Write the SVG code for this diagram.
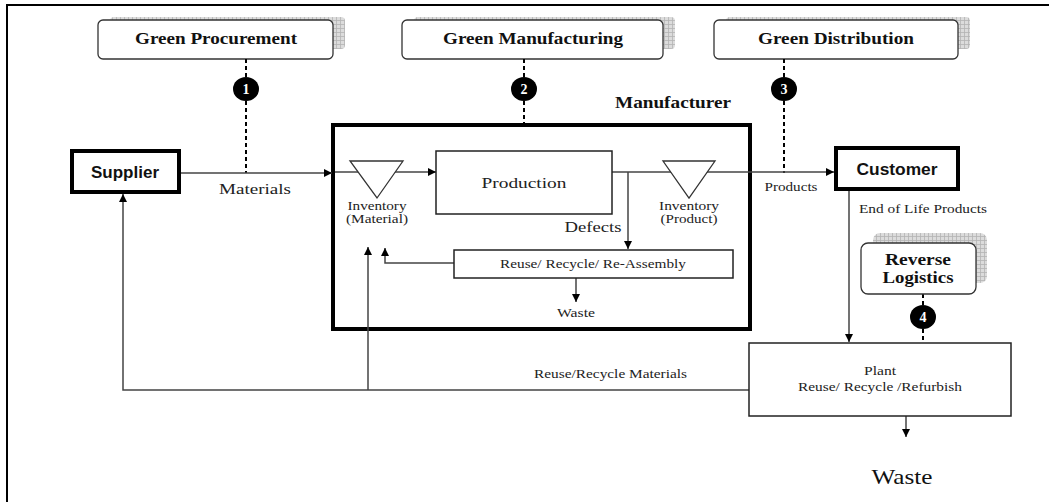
<svg xmlns="http://www.w3.org/2000/svg" width="1049" height="502" viewBox="0 0 1049 502">
  <style>
    .frame { fill: none; stroke: #000; stroke-width: 2; }
    .box { fill: #fff; stroke: #222; stroke-width: 1.5; }
    .thick { fill: #fff; stroke: #000; stroke-width: 4; }
    .green { fill: #fff; stroke: #333; stroke-width: 1.3; }
    .shadow { fill: url(#grid); }
    .link { fill: none; stroke: #444; stroke-width: 1.5; }
    .dash { fill: none; stroke: #000; stroke-width: 2; stroke-dasharray: 4 3; }
    .badge { fill: #000; }
    .badgeText { font-family: "Liberation Serif", serif; font-weight: bold; font-size: 14px; fill: #fff; text-anchor: middle; }
    .hdr { font-family: "Liberation Serif", serif; font-weight: bold; font-size: 16px; fill: #111; text-anchor: middle; }
    .rl { font-family: "Liberation Serif", serif; font-weight: bold; font-size: 17px; fill: #111; text-anchor: middle; }
    .sans { font-family: "Liberation Sans", Arial, sans-serif; font-weight: bold; font-size: 16px; fill: #111; text-anchor: middle; }
    .serif { font-family: "Liberation Serif", serif; fill: #222; text-anchor: middle; }
    .s12 { font-size: 12px; }
    .s13 { font-size: 13px; }
    .s15 { font-size: 15px; }
    .big { font-size: 22px; fill: #111; }
    .start { text-anchor: start; }
    .tri { fill: #fff; stroke: #333; stroke-width: 1.3; }
  </style>
  <defs>
    <pattern id="grid" width="4" height="4" patternUnits="userSpaceOnUse">
      <rect width="4" height="4" fill="#dcdcdc"/>
      <path d="M0 0.5H4M0.5 0V4" stroke="#b4b4b4" stroke-width="0.8"/>
    </pattern>
    <marker id="arr" viewBox="0 0 10 10" refX="10" refY="5" markerWidth="8" markerHeight="8" markerUnits="userSpaceOnUse" orient="auto">
      <path d="M0 0L10 5L0 10z" fill="#000"/>
    </marker>
  </defs>

  <rect width="1049" height="502" fill="#fff"/>
  <!-- page frame -->
  <path class="frame" d="M7 502V5H1049"/>

  <!-- green practice headers -->
  <g id="green-procurement">
    <rect class="shadow" x="110" y="17" width="235" height="32" rx="4"/>
    <rect class="green" x="98" y="20" width="235" height="39" rx="5"/>
    <text class="hdr" x="216" y="44" textLength="162" lengthAdjust="spacingAndGlyphs">Green Procurement</text>
  </g>
  <g id="green-manufacturing">
    <rect class="shadow" x="414" y="17" width="261" height="32" rx="4"/>
    <rect class="green" x="402" y="20" width="261" height="39" rx="5"/>
    <text class="hdr" x="533" y="44" textLength="180" lengthAdjust="spacingAndGlyphs">Green Manufacturing</text>
  </g>
  <g id="green-distribution">
    <rect class="shadow" x="726" y="17" width="244" height="32" rx="4"/>
    <rect class="green" x="714" y="20" width="244" height="39" rx="5"/>
    <text class="hdr" x="836" y="44" textLength="156" lengthAdjust="spacingAndGlyphs">Green Distribution</text>
  </g>

  <!-- manufacturer -->
  <g id="manufacturer">
    <rect class="thick" x="333" y="125" width="417" height="204"/>
    <text class="hdr" x="673" y="108" textLength="116" lengthAdjust="spacingAndGlyphs">Manufacturer</text>
  </g>

  <g id="connectors">
    <!-- dashed links to practices -->
    <path class="dash" d="M246 59V173"/>
    <path class="dash" d="M524 59V125"/>
    <path class="dash" d="M784 59V173"/>
    <path class="dash" d="M923 294V343"/>
    <!-- forward flow -->
    <path class="link" d="M179 173H332" marker-end="url(#arr)"/>
    <path class="link" d="M335 172H436" marker-end="url(#arr)"/>
    <path class="link" d="M612 172H834" marker-end="url(#arr)"/>
    <path class="link" d="M628 172V249" marker-end="url(#arr)"/>
    <path class="link" d="M454 263H385V248" marker-end="url(#arr)"/>
    <path class="link" d="M576 278V302" marker-end="url(#arr)"/>
    <!-- reverse flow -->
    <path class="link" d="M849 190V342" marker-end="url(#arr)"/>
    <path class="link" d="M749 390H123V194" marker-end="url(#arr)"/>
    <path class="link" d="M368 390V247" marker-end="url(#arr)"/>
    <path class="link" d="M906 416V437" marker-end="url(#arr)"/>
  </g>

  <!-- badges -->
  <g id="badge-1"><ellipse class="badge" cx="246" cy="89" rx="13" ry="12"/><text class="badgeText" x="246" y="94">1</text></g>
  <g id="badge-2"><ellipse class="badge" cx="524" cy="89" rx="13" ry="12"/><text class="badgeText" x="524" y="94">2</text></g>
  <g id="badge-3"><ellipse class="badge" cx="784" cy="89" rx="13" ry="12"/><text class="badgeText" x="784" y="94">3</text></g>
  <g id="badge-4"><ellipse class="badge" cx="923" cy="317" rx="13" ry="12"/><text class="badgeText" x="923" y="322">4</text></g>

  <g id="supplier">
    <rect class="thick" x="72" y="151" width="107" height="41"/>
    <text class="sans" x="125" y="178" textLength="68" lengthAdjust="spacingAndGlyphs">Supplier</text>
  </g>
  <g id="customer">
    <rect class="thick" x="836" y="148" width="122" height="41"/>
    <text class="sans" x="897" y="175" textLength="81" lengthAdjust="spacingAndGlyphs">Customer</text>
  </g>

  <g id="inventory-material">
    <path class="tri" d="M350 161H403L377 198z"/>
    <text class="serif s12" x="377" y="210" textLength="59" lengthAdjust="spacingAndGlyphs">Inventory</text>
    <text class="serif s12" x="377" y="223" textLength="62" lengthAdjust="spacingAndGlyphs">(Material)</text>
  </g>
  <g id="production">
    <rect class="box" x="436" y="151" width="176" height="63"/>
    <text class="serif s15" x="524" y="188" textLength="85" lengthAdjust="spacingAndGlyphs">Production</text>
  </g>
  <g id="inventory-product">
    <path class="tri" d="M663 161H715L689 198z"/>
    <text class="serif s12" x="689" y="210" textLength="60" lengthAdjust="spacingAndGlyphs">Inventory</text>
    <text class="serif s12" x="689" y="223" textLength="57" lengthAdjust="spacingAndGlyphs">(Product)</text>
  </g>
  <g id="reuse-assembly">
    <rect class="box" x="454" y="250" width="279" height="28"/>
    <text class="serif s13" x="593" y="268" textLength="186" lengthAdjust="spacingAndGlyphs">Reuse/ Recycle/ Re-Assembly</text>
  </g>

  <g id="reverse-logistics">
    <rect class="shadow" x="873" y="233" width="114" height="50" rx="7"/>
    <rect class="green" x="861" y="243" width="115" height="51" rx="7"/>
    <text class="rl" x="918" y="265" textLength="66" lengthAdjust="spacingAndGlyphs">Reverse</text>
    <text class="rl" x="918" y="283" textLength="71" lengthAdjust="spacingAndGlyphs">Logistics</text>
  </g>
  <g id="plant">
    <rect class="box" x="749" y="343" width="262" height="73"/>
    <text class="serif s12" x="880" y="375" textLength="32" lengthAdjust="spacingAndGlyphs">Plant</text>
    <text class="serif s12" x="880" y="391" textLength="164" lengthAdjust="spacingAndGlyphs">Reuse/ Recycle /Refurbish</text>
  </g>

  <!-- flow labels -->
  <g id="labels">
    <text class="serif s15" x="255" y="194" textLength="72" lengthAdjust="spacingAndGlyphs">Materials</text>
    <text class="serif s12" x="791" y="191" textLength="53" lengthAdjust="spacingAndGlyphs">Products</text>
    <text class="serif s15" x="593" y="232" textLength="57" lengthAdjust="spacingAndGlyphs">Defects</text>
    <text class="serif s12" x="576" y="317" textLength="38" lengthAdjust="spacingAndGlyphs">Waste</text>
    <text class="serif s12 start" x="859" y="213" textLength="128" lengthAdjust="spacingAndGlyphs">End of Life Products</text>
    <text class="serif s13 start" x="534" y="378" textLength="153" lengthAdjust="spacingAndGlyphs">Reuse/Recycle Materials</text>
    <text class="serif big" x="902" y="484" textLength="61" lengthAdjust="spacingAndGlyphs">Waste</text>
  </g>
</svg>
